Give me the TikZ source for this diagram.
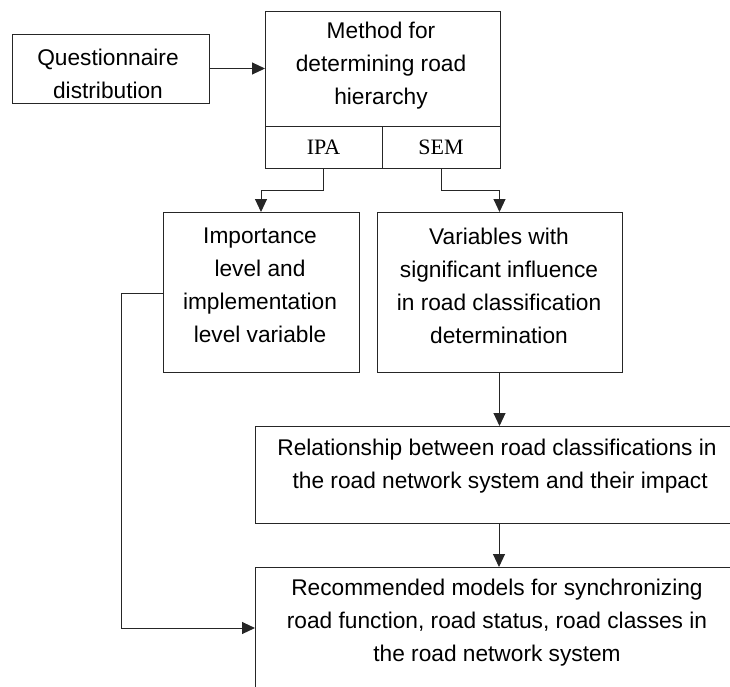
\documentclass[tikz,border=0pt]{standalone}
\usepackage{fontspec}
\setmainfont{Liberation Sans}
\newfontfamily\serifface{Liberation Serif}
\usetikzlibrary{arrows.meta}
\begin{document}
\begin{tikzpicture}[x=1pt,y=-1pt,
  box/.style={draw=black!85, line width=1pt, rectangle, inner sep=0pt, outer sep=0pt, anchor=north west},
  txt/.style={align=center, inner sep=0pt, font=\fontsize{22.7}{33}\selectfont},
  tag/.style={inner sep=0pt, font=\serifface\fontsize{22}{26}\selectfont},
  arr/.style={draw=black!85, line width=1pt, -{Triangle[length=13pt,width=12pt]}},
  link/.style={draw=black!85, line width=1pt}]
\useasboundingbox (0,0) rectangle (730,686);
\begin{scope}
  \clip (0,0) rectangle (730,686);
  % boxes
  \node[box, minimum width=197pt, minimum height=69pt] (q) at (12,34) {};
  \node[box, minimum width=235pt, minimum height=115pt] (meth) at (265,11) {};
  \node[box, minimum width=117pt, minimum height=42pt] (ipa) at (265,126) {};
  \node[box, minimum width=118pt, minimum height=42pt] (sem) at (382,126) {};
  \node[box, minimum width=196pt, minimum height=160pt] (imp) at (163,212) {};
  \node[box, minimum width=245pt, minimum height=160pt] (var) at (377,212) {};
  \node[box, minimum width=485pt, minimum height=97pt] (rel) at (255,426) {};
  \node[box, minimum width=485pt, minimum height=122pt] (rec) at (255,567) {};
\end{scope}
% texts
\node[txt] (qt) at (108,74) {Questionnaire\\distribution};
\node[txt] (mt) at (381,66) {Method for\\determining road\\hierarchy};
\node[tag] (ipat) at (ipa.center) {IPA};
\node[tag] (semt) at (sem.center) {SEM};
\node[txt] (impt) at (260,285.5) {Importance\\level and\\implementation\\level variable};
\node[txt] (vart) at (499,285.5) {Variables with\\significant influence\\in road classification\\determination};
\node[txt] (relt) at (497,466) {Relationship between road classifications in\\\ the road network system and their impact};
\node[txt] (rect) at (497,623) {Recommended models for synchronizing\\road function, road status, road classes in\\the road network system};
% connectors
\coordinate (mid) at (499,0);
\draw[arr] (q.east) -- (q.east -| meth.west);
\draw[arr] (ipa.south) -- ++(0,22) -| (imp.north);
\draw[arr] (sem.south) -- ++(0,22) -| (var.north);
\draw[arr] (var.south) -- (var.south |- rel.north);
\draw[arr] (mid |- rel.south) -- (mid |- rec.north);
\draw[arr] ([yshift=-1pt]imp.west) -- ++(-42,0) |- (rec.west);
\end{tikzpicture}
\end{document}
